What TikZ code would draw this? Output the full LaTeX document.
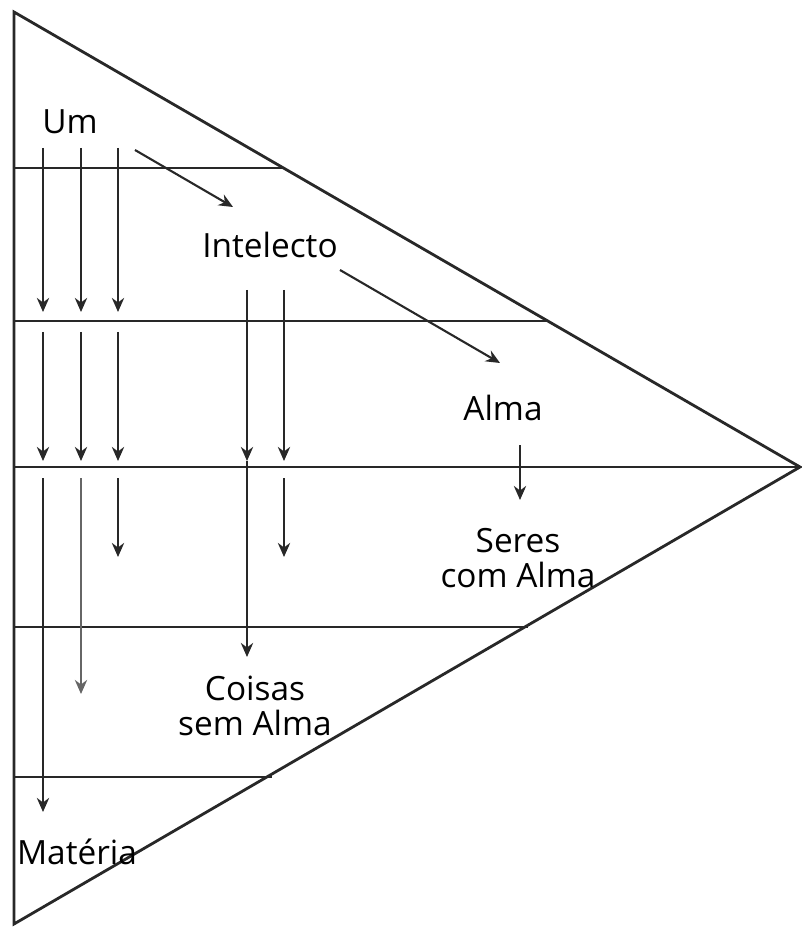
\documentclass[tikz,border=0pt]{standalone}
\usepackage{fontspec}
\setmainfont{Open Sans}
\usetikzlibrary{arrows.meta}
\definecolor{lineGray}{RGB}{40, 40, 40}
\tikzset{
  edge/.style={lineGray, line width=1.6pt},
  ray/.style={lineGray, line width=1.2pt, -{Stealth[length=8pt,width=7pt]}},
  label/.style={font=\fontsize{19}{20}\selectfont, align=center, inner sep=1pt}
}

\begin{document}
\begin{tikzpicture}[x=0.02cm, y=-0.02cm]
        \useasboundingbox (0,0) rectangle (801,928);
        % triangle and levels
        \coordinate (top) at (14,12);
        \coordinate (apex) at (800,467);
        \coordinate (bot) at (14,924);
        \draw[edge] (top) -- (apex) -- (bot) -- cycle;
        \draw[edge] (14,168) -- (282,168);
        \draw[edge] (14,321) -- (547,321);
        \draw[edge] (14,467) -- (apex);
        \draw[edge] (14,627) -- (528,627);
        \draw[edge] (14,777) -- (272,777);
        % labels
        \node[label] (um) at (70,122) {Um};
        \node[label] (intelecto) at (270,245) {Intelecto};
        \node[label] (alma) at (503,408) {Alma};
        \node[label] (seres) at (518,558) {Seres\\com Alma};
        \node[label] (coisas) at (255,706) {Coisas\\sem Alma};
        \node[label] (materia) at (77,852) {Matéria};
        % emanation from Um
        \foreach \x in {43,81,118} {
          \draw[ray] (\x,148) -- (\x,312);
          \draw[ray] (\x,332) -- (\x,461);
        }
        \draw[ray] (43,478) -- (43,812);
        \draw[ray, black!60] (81,478) -- (81,694);
        \draw[ray] (118,478) -- (118,557);
        \draw[ray] (135,150) -- (233,207);
        % emanation from Intelecto
        \foreach \x in {247,284}
          \draw[ray] (\x,290) -- (\x,461);
        \draw[ray] (247,461) -- (247,657);
        \draw[ray] (284,478) -- (284,557);
        \draw[ray] (340,270) -- (500,363);
        % emanation from Alma
        \draw[ray] (520,445) -- (520,500);
      \end{tikzpicture}
\end{document}
